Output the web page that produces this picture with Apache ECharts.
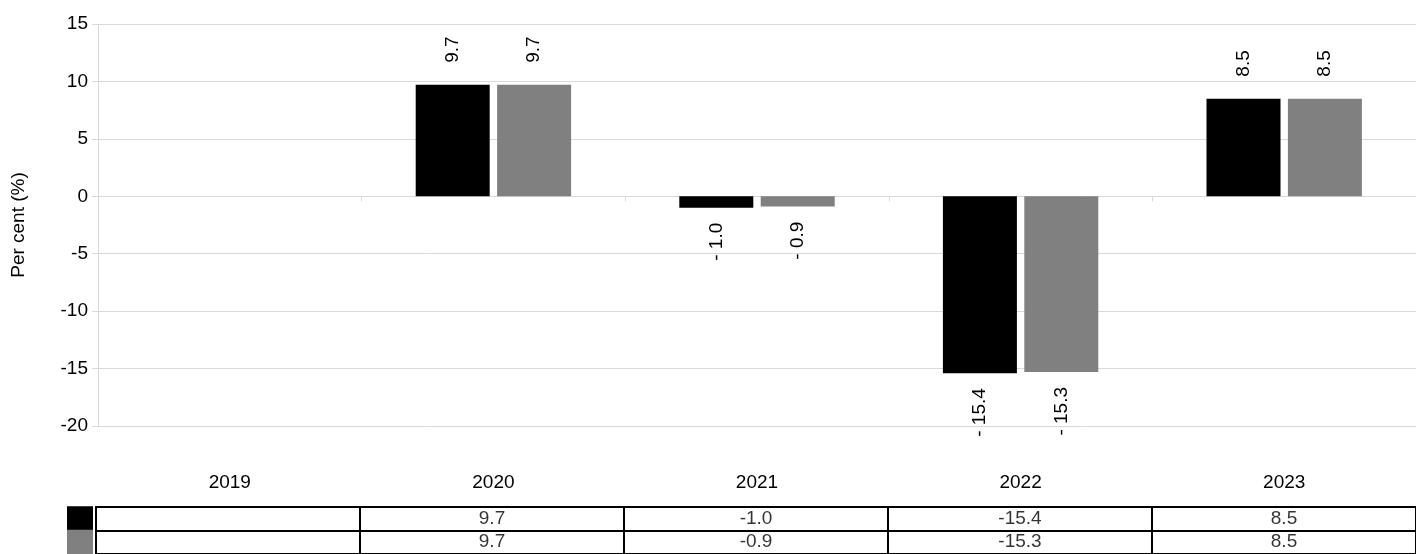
<!DOCTYPE html>
<html>
<head>
<meta charset="utf-8">
<script src="https://cdn.jsdelivr.net/npm/echarts@6/dist/echarts.min.js"></script>
<style>
    html, body { margin: 0; padding: 0; background: #fff; }
    #chart { width: 1416px; height: 554px; }
</style>
</head>
<body>
<div id="chart"></div>
<script>
// categories and values
const years = ['2019', '2020', '2021', '2022', '2023']
const seriesA = [null, 9.7, -1.0, -15.4, 8.5]
const seriesB = [null, 9.7, -0.9, -15.3, 8.5]
const yTicks = { min: -20, max: 15, interval: 5 }
const colors = ['#000000', '#808080']
const rows = ['a', 'b']

const font = 'Liberation Sans, Arial, sans-serif'
const fs = 19
const gridGrey = '#d9d9d9'

// bar label: "- 1.0" for negatives, rotated, outside the bar end
function barData(values) {
    return values.map((v) => {
        if (v === null) return null
        const neg = v < 0
        return {
            value: v,
            label: {
                show: true,
                rotate: 90,
                position: neg ? 'bottom' : 'top',
                align: neg ? 'right' : 'left',
                verticalAlign: 'middle',
                distance: neg ? 15 : 22,
                formatter: neg ? '- ' + Math.abs(v).toFixed(1) : v.toFixed(1),
                color: '#000',
                fontSize: fs,
                fontFamily: font
            }
        }
    })
}

// table cells: [column, row, value]
function tableData() {
    const out = []
    ;[seriesA, seriesB].forEach((vals, r) => {
        vals.forEach((v, c) => {
            if (v !== null) out.push([c, r, v])
        })
    })
    return out
}

const myChart = echarts.init(document.getElementById('chart'))
const option = {
    animation: false,
    textStyle: { fontFamily: font },
    grid: [
        { left: 98, right: 0, top: 24, bottom: 128 },
        { left: 96, right: 0, top: 507, height: 50 }
    ],
    xAxis: [
        {
            type: 'category',
            gridIndex: 0,
            data: years,
            axisLine: { onZero: true, lineStyle: { color: gridGrey, width: 1 } },
            axisTick: { show: true, length: 5, lineStyle: { color: gridGrey } },
            axisLabel: { show: false }
        },
        {
            type: 'category',
            gridIndex: 0,
            position: 'bottom',
            data: years,
            axisLine: { show: false, onZero: false },
            axisTick: { show: false },
            axisLabel: { margin: 47, color: '#000', fontSize: fs, fontFamily: font }
        },
        {
            type: 'category',
            gridIndex: 1,
            position: 'top',
            data: years,
            axisLine: { show: true, lineStyle: { color: '#000', width: 2 } },
            axisTick: { show: false },
            axisLabel: { show: false },
            splitLine: { show: true, lineStyle: { color: '#000', width: 2 } }
        }
    ],
    yAxis: [
        {
            type: 'value',
            gridIndex: 0,
            min: yTicks.min,
            max: yTicks.max,
            interval: yTicks.interval,
            name: 'Per cent (%)',
            nameLocation: 'middle',
            nameGap: 70,
            nameTextStyle: { color: '#000', fontSize: fs, fontFamily: font },
            axisLine: { show: true, lineStyle: { color: gridGrey } },
            axisTick: { show: true, length: 6, lineStyle: { color: gridGrey } },
            axisLabel: { color: '#000', fontSize: fs, fontFamily: font, margin: 10 },
            splitLine: { show: true, lineStyle: { color: gridGrey } }
        },
        {
            type: 'category',
            gridIndex: 1,
            inverse: true,
            data: rows,
            axisLine: { show: true, lineStyle: { color: '#000', width: 2 } },
            axisTick: { show: false },
            splitLine: { show: true, interval: 0, lineStyle: { color: '#000', width: 2 } },
            axisLabel: {
                interval: 0,
                hideOverlap: false,
                margin: 3,
                formatter: (val) => '{' + val + '|}',
                rich: {
                    a: { backgroundColor: colors[0], width: 26, height: 25 },
                    b: { backgroundColor: colors[1], width: 26, height: 25 }
                }
            }
        }
    ],
    series: [
        {
            name: 'A',
            type: 'bar',
            xAxisIndex: 0,
            yAxisIndex: 0,
            data: barData(seriesA),
            barWidth: 74,
            barGap: '10%',
            itemStyle: { color: colors[0] }
        },
        {
            name: 'B',
            type: 'bar',
            xAxisIndex: 0,
            yAxisIndex: 0,
            data: barData(seriesB),
            barWidth: 74,
            barGap: '10%',
            itemStyle: { color: colors[1] }
        },
        {
            name: 'table',
            type: 'scatter',
            xAxisIndex: 2,
            yAxisIndex: 1,
            symbolSize: 0,
            data: tableData(),
            label: {
                show: true,
                position: 'inside',
                formatter: (p) => p.value[2].toFixed(1),
                color: '#000',
                fontSize: fs,
                fontFamily: font
            }
        }
    ]
}
myChart.setOption(option)
</script>
</body>
</html>
